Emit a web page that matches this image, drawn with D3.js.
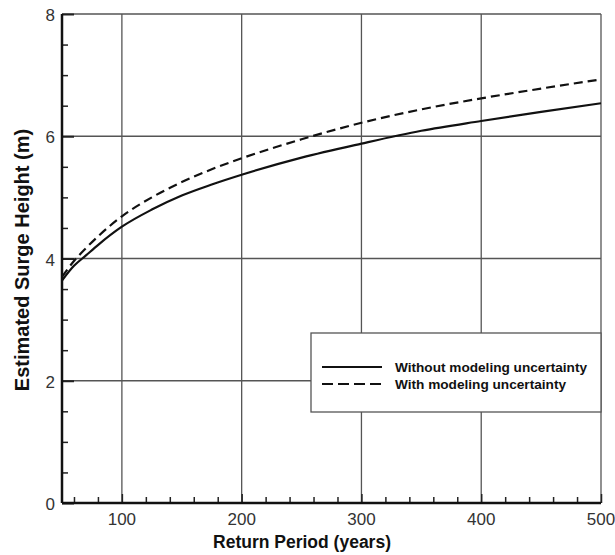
<!DOCTYPE html>
<html>
<head>
<meta charset="utf-8">
<script src="https://cdn.jsdelivr.net/npm/d3@7"></script>
<style>
  body { margin: 0; background: #fff; }
  svg { display: block; font-family: "Liberation Sans", Arial, sans-serif; }
</style>
</head>
<body>
<svg id="chart" width="615" height="555"></svg>
<script>
// return periods (years)
var returnPeriods = [50, 60, 70, 80, 100, 125, 150, 175, 200, 250, 300, 350, 400, 450, 500];
// surge heights (m)
var withoutUncertainty = [3.64, 3.88, 4.05, 4.22, 4.52, 4.80, 5.03, 5.21, 5.37, 5.65, 5.88, 6.09, 6.25, 6.40, 6.54];
var withUncertainty    = [3.70, 3.96, 4.17, 4.36, 4.69, 5.00, 5.25, 5.46, 5.64, 5.95, 6.22, 6.44, 6.62, 6.78, 6.93];

var xTicks = [100, 200, 300, 400, 500];
var yTicks = [0, 2, 4, 6, 8];
var seriesNames = ["Without modeling uncertainty", "With modeling uncertainty"];

var svg = d3.select("#chart"),
    plotLeft = 62, plotRight = 601, plotTop = 14, plotBottom = 503;

var x = d3.scaleLinear().domain([50, 500]).range([plotLeft, plotRight]);
var y = d3.scaleLinear().domain([0, 8]).range([plotBottom, plotTop]);

var gridColor = "#555";

// grid lines
var grid = svg.append("g");
grid.selectAll(".vgrid")
    .data(xTicks.filter(function(d) { return d < 500; }))
  .enter().append("line")
    .attr("x1", function(d) { return x(d); })
    .attr("x2", function(d) { return x(d); })
    .attr("y1", plotTop).attr("y2", plotBottom)
    .style("stroke", gridColor).style("stroke-width", 1.3);
grid.selectAll(".hgrid")
    .data(yTicks.filter(function(d) { return d > 0 && d < 8; }))
  .enter().append("line")
    .attr("x1", plotLeft).attr("x2", plotRight)
    .attr("y1", function(d) { return y(d); })
    .attr("y2", function(d) { return y(d); })
    .style("stroke", gridColor).style("stroke-width", 1.3);

// frame: top and right
svg.append("line").attr("x1", plotLeft).attr("x2", plotRight).attr("y1", plotTop).attr("y2", plotTop)
    .style("stroke", gridColor).style("stroke-width", 1.3);
svg.append("line").attr("x1", plotRight).attr("x2", plotRight).attr("y1", plotTop).attr("y2", plotBottom)
    .style("stroke", gridColor).style("stroke-width", 1.3);

// minor ticks, pointing inward
var xMinor = d3.range(60, 500, 20).filter(function(d) { return d % 100 !== 0; });
var yMinor = d3.range(0.5, 8, 0.5).filter(function(d) { return d % 2 !== 0; });

function styleTicks(g, w) {
  g.select(".domain").remove();
  g.selectAll("line").attr("stroke", "#222").attr("stroke-width", w);
}

svg.append("g").attr("transform", "translate(0," + plotBottom + ")")
    .call(d3.axisTop(x).tickValues(xMinor).tickSize(6).tickFormat(""))
    .call(styleTicks, 1.5);
svg.append("g").attr("transform", "translate(0," + plotBottom + ")")
    .call(d3.axisTop(x).tickValues(xTicks).tickSize(9).tickFormat(""))
    .call(styleTicks, 1.5);
svg.append("g").attr("transform", "translate(" + plotLeft + ",0)")
    .call(d3.axisRight(y).tickValues(yMinor).tickSize(6).tickFormat(""))
    .call(styleTicks, 1.5);
svg.append("g").attr("transform", "translate(" + plotLeft + ",0)")
    .call(d3.axisRight(y).tickValues(yTicks).tickSize(12).tickFormat(""))
    .call(styleTicks, 2);

// main axes lines
svg.append("line").attr("x1", plotLeft).attr("x2", plotRight).attr("y1", plotBottom).attr("y2", plotBottom)
    .style("stroke", "#111").style("stroke-width", 2.5);
svg.append("line").attr("x1", plotLeft).attr("x2", plotLeft).attr("y1", plotTop).attr("y2", plotBottom)
    .style("stroke", "#111").style("stroke-width", 2.5);

// tick labels
svg.selectAll(".xlab")
    .data(xTicks)
  .enter().append("text")
    .attr("x", function(d) { return x(d); })
    .attr("y", plotBottom + 22)
    .attr("text-anchor", "middle")
    .style("font-size", "17px").style("fill", "#333")
    .text(function(d) { return d; });
svg.selectAll(".ylab")
    .data(yTicks)
  .enter().append("text")
    .attr("x", plotLeft - 7)
    .attr("y", function(d) { return y(d) + 7; })
    .attr("text-anchor", "end")
    .style("font-size", "17px").style("fill", "#333")
    .text(function(d) { return d; });

// axis titles
svg.append("text")
    .attr("x", 302).attr("y", 548)
    .attr("text-anchor", "middle")
    .style("font-size", "17.5px").style("font-weight", "bold").style("fill", "#111")
    .text("Return Period (years)");
svg.append("text")
    .attr("transform", "translate(29,260) rotate(-90)")
    .attr("text-anchor", "middle")
    .style("font-size", "20px").style("font-weight", "bold").style("fill", "#111")
    .text("Estimated Surge Height (m)");

// curves
var line = d3.line().curve(d3.curveMonotoneX)
    .x(function(d) { return x(d[0]); })
    .y(function(d) { return y(d[1]); });

var solidData = returnPeriods.map(function(p, i) { return [p, withoutUncertainty[i]]; });
var dashData = returnPeriods.map(function(p, i) { return [p, withUncertainty[i]]; });

svg.append("path").datum(solidData).attr("d", line)
    .style("fill", "none").style("stroke", "#111").style("stroke-width", 2.2);
svg.append("path").datum(dashData).attr("d", line)
    .style("fill", "none").style("stroke", "#111").style("stroke-width", 2.2)
    .style("stroke-dasharray", "9,5");

// legend
var legend = svg.append("g");
legend.append("rect")
    .attr("x", 311).attr("y", 333).attr("width", 290).attr("height", 79)
    .style("fill", "#fff").style("stroke", gridColor).style("stroke-width", 1.3);
var legendRows = legend.selectAll(".row")
    .data(seriesNames)
  .enter().append("g")
    .attr("transform", function(d, i) { return "translate(0," + (367 + i * 17) + ")"; });
legendRows.append("line")
    .attr("x1", 322).attr("x2", 382).attr("y1", 0).attr("y2", 0)
    .style("stroke", "#111").style("stroke-width", 2)
    .style("stroke-dasharray", function(d, i) { return i === 0 ? null : "11,5"; });
legendRows.append("text")
    .attr("x", 395).attr("y", 5)
    .attr("textLength", function(d, i) { return i === 0 ? 192 : 171; })
    .attr("lengthAdjust", "spacingAndGlyphs")
    .style("font-size", "13px").style("font-weight", "bold").style("fill", "#111")
    .text(function(d) { return d; });
</script>
</body>
</html>
